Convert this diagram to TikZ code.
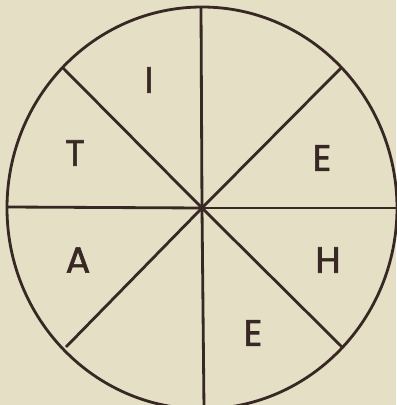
\documentclass[tikz,border=0pt]{standalone}
\usepackage{fontspec}
\setmainfont{Poppins}
\newfontfamily\wheelfont[FakeBold=1.6]{Poppins}
\usetikzlibrary{calc}
\definecolor{paper}{RGB}{229,223,198}
\definecolor{ink}{RGB}{55,40,35}

\begin{document}
\begin{tikzpicture}[
        x=0.025cm,
        y=0.025cm,
        wheel line/.style={ink,line width=2pt},
        sector letter/.style={
            ink,inner sep=0pt,font=\wheelfont\fontsize{26}{26}\selectfont
        }
    ]
        % The page, with the margins of the original.
        \fill[paper] (-202,-197) rectangle (194,208);
        \useasboundingbox (-202,-197) rectangle (194,208);

        % The hub and the ends of the eight spokes on the rim.
        \coordinate (hub) at (0,0);
        \coordinate (rimtop) at (-1,201);
        \coordinate (rimbottom) at (2,-201);
        \coordinate (rimleft) at (-195,1);
        \coordinate (rimright) at (195,0);
        \coordinate (rimupleft) at (-139,140);
        \coordinate (rimupright) at (140,141);
        \coordinate (rimlowleft) at (-136,-139);
        \coordinate (rimlowright) at (140,-139);

        % The wheel.
        \draw[wheel line] (hub) ellipse [x radius=195,y radius=201];
        \foreach \rim in {rimtop,rimbottom,rimleft,rimright,
            rimupleft,rimupright,rimlowleft,rimlowright}
            \draw[wheel line] (hub) -- (\rim);

        % The letters in the sectors.
        \node[sector letter] (letteri) at (-53,128) {I};
        \node[sector letter] (lettert) at (-127,55) {T};
        \node[sector letter] (lettere) at (120,50) {E};
        \node[sector letter] (lettera) at (-124,-52) {A};
        \node[sector letter] (letterh) at (126,-52) {H};
        \node[sector letter] (letterlowe) at (51,-125) {E};
    \end{tikzpicture}
\end{document}
